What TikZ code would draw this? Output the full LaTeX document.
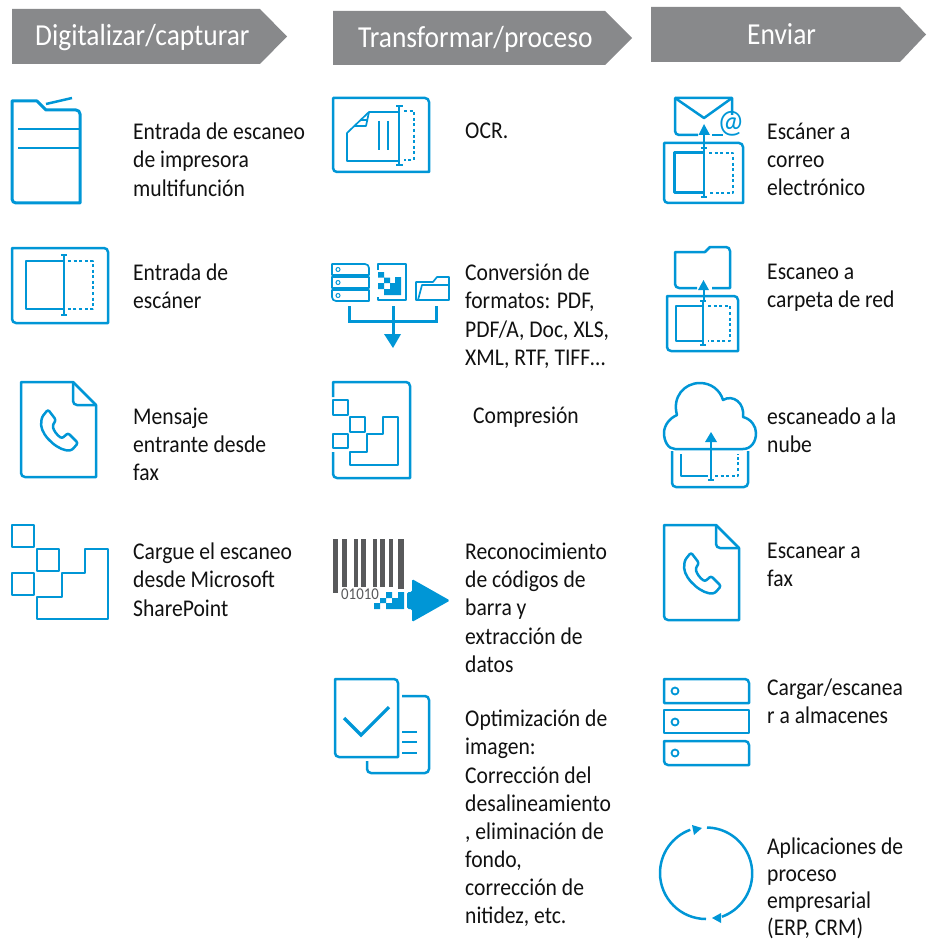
\documentclass[tikz,border=0pt]{standalone}
\usepackage{fontspec}
\setmainfont[FakeStretch=0.9]{Carlito}
\definecolor{hpblue}{HTML}{0096D6}
\definecolor{hdr}{HTML}{88898B}
\definecolor{barc}{HTML}{58595B}
\definecolor{txt}{HTML}{111111}
\tikzset{
  icon/.style={draw=hpblue,line width=2.5pt,line join=round,fill=none},
  thin icon/.style={icon,line width=1.7pt},
  dash icon/.style={icon,dash pattern=on 3pt off 2.6pt},
  banner/.style={fill=hdr,draw=none},
  htext/.style={text=white,font=\fontsize{30.5}{30}\selectfont,inner sep=0pt,anchor=base west},
  ltext/.style={text=txt,font=\fontsize{24}{28.1}\selectfont,inner sep=0pt,anchor=north west,align=left},
  barbar/.style={fill=barc,draw=none},
  rc/.style={rounded corners=4pt},
}
\newcommand{\phonepath}[1]{%
  \draw[icon,rounded corners=2.2pt,shift={#1}]
    (42,417) -- (48,409.5) -- (56,420) -- (52.5,425.5)
    .. controls (54,431) and (57,435) .. (62,438.5)
    -- (68,433) -- (78,443) -- (72,450)
    .. controls (60,452) and (42,437) .. (41,423) -- cycle;}
\begin{document}
\begin{tikzpicture}[x=1pt,y=-1pt]
\useasboundingbox (0,0) rectangle (932,941);
% banners
\fill[banner] (12,9) -- (260,9) -- (287,36.5) -- (260,64) -- (12,64) -- cycle;
\fill[banner] (333,11) -- (605,11) -- (632,38) -- (605,65) -- (333,65) -- cycle;
\fill[banner] (651,7) -- (900,7) -- (926,34.5) -- (900,62) -- (651,62) -- cycle;
\node[htext] (h1) at (35,46) {Digitalizar/capturar};
\node[htext] (h2) at (358,48) {Transformar/proceso};
\node[htext] (h3) at (747,45) {Enviar};

% printer
\draw[icon,line width=3pt] (12,101) -- (37,101) -- (46,110) [rc] -- (80,110) [sharp corners] -- (80,203) [rc] -- (12,203) [sharp corners] -- cycle;
\draw[icon] (18,129) -- (80,129) (18,148) -- (80,148);
\draw[icon] (46,104) -- (72,98);
% scanner
\draw[icon] (12,248) [rc] -- (108,248) [sharp corners] -- (108,323) [rc] -- (12,323) [sharp corners] -- cycle;
\draw[icon] (64,261) -- (26,261) -- (26,309) -- (64,309);
\draw[icon] (64,255) -- (64,315) (61,255) -- (67,255) (61,315) -- (67,315);
\draw[dash icon] (68,261) -- (93,261) -- (93,309) -- (68,309);
% fax
\draw[icon] (21,382) -- (73,382) -- (96,405) -- (96,477) [rc] -- (21,477) [sharp corners] -- cycle;
\draw[icon] (73,382) [rc] -- (73,405) -- (96,405);
\phonepath{(0,0)}
% sharepoint
\draw[icon] (12,525) rectangle (34,547) (37,549) rectangle (59,571) (12,573) rectangle (34,595);
\draw[icon] (37,597) -- (62,597) -- (62,573) -- (85,573) -- (85,549) -- (108,549) -- (108,619) -- (37,619) -- cycle;

% OCR
\draw[icon] (333,98) [rc] -- (429,98) [sharp corners] -- (429,172) [rc] -- (333,172) [sharp corners] -- cycle;
\draw[thin icon] (398,112) -- (369,112) -- (347,133) -- (347,161) -- (398,161);
\draw[thin icon] (369,112) -- (366,126) -- (355,126) (360,120) -- (367,120);
\draw[thin icon] (379,121) -- (379,150) (388,121) -- (388,150);
\draw[icon] (399,106) -- (399,165) (396,106) -- (403,106) (396,165) -- (403,165);
\draw[dash icon] (404,111) -- (414,111) -- (414,160) -- (404,160);
% formats
\draw[thin icon] (332,264) [rc] -- (369,264) [sharp corners] -- (369,275) -- (332,275) -- cycle;
\draw[thin icon] (332,277) rectangle (369,288);
\draw[thin icon] (332,290) -- (369,290) -- (369,301) [rc] -- (332,301) [sharp corners] -- cycle;
\foreach \yy in {269.5,282.5,295.5} \draw[hpblue,line width=1pt] (338,\yy) circle[radius=2pt];
\draw[thin icon] (378,270) -- (378,264) -- (406,264) -- (406,300) -- (378,300) -- (378,297);
\fill[hpblue] (378,272) rectangle (384,277.5) (384,277.5) rectangle (390,283) (378,283) rectangle (384,289);
\fill[hpblue] (384,295) -- (401,295) -- (401,277) -- (395,277) -- (395,283) -- (390,283) -- (390,289) -- (384,289) -- cycle;
\draw[thin icon] (416,300) -- (416,282) -- (433,282) -- (437,277) -- (449,277) -- (449,300) -- cycle;
\draw[thin icon] (418,300) -- (422,285) -- (449,285);
\draw[hpblue,line width=3pt] (349,306) -- (349,321) -- (436,321) -- (436,306) (393,306) -- (393,336);
\fill[hpblue] (384,334) -- (401,334) -- (393,348) -- cycle;
% compression
\draw[icon] (333,397) -- (333,382) [rc] -- (410,382) [sharp corners] -- (410,478) [rc] -- (333,478) [sharp corners] -- (333,452);
\draw[icon] (333,400) rectangle (348,415) (350,417) rectangle (365,432) (333,434) rectangle (348,448);
\draw[icon] (350,452) -- (367,452) -- (367,434) -- (383,434) -- (383,417) -- (398,417) -- (398,465) -- (350,465) -- cycle;
% barcode
\fill[barbar] (333,539) rectangle (338,593);
\fill[barbar] (342,539) rectangle (347,587);
\fill[barbar] (354,539) rectangle (357.5,587);
\fill[barbar] (361,539) rectangle (366,587);
\fill[barbar] (373,539) rectangle (376.5,587);
\fill[barbar] (380,539) rectangle (385,587);
\fill[barbar] (389,539) rectangle (393,587);
\fill[barbar] (398,539) rectangle (404,589);
\node[text=barc,font=\fontsize{16.5}{15}\selectfont,inner sep=0pt,anchor=base west] (bc) at (341,599) {01010};
\fill[hpblue] (374,603) rectangle (380,609) (380,598) rectangle (386,603) (386,592) rectangle (392,598);
\fill[hpblue] (386,603) -- (392,603) -- (392,598) -- (398,598) -- (398,592) -- (404,592) -- (404,609) -- (386,609) -- cycle;
\fill[hpblue,rounded corners=1.5pt] (407,592) -- (412,592) -- (412,579) -- (450,600.5) -- (412,622) -- (412,609) -- (407,609) -- cycle;
% optimise
\draw[icon] (335,679) [rc] -- (398,679) [sharp corners] -- (398,757) [rc] -- (335,757) [sharp corners] -- cycle;
\draw[icon] (402,696) [rc] -- (429,696) -- (429,773) -- (367,773) [sharp corners] -- (367,761);
\draw[icon] (402,732) -- (417,732) (402,742) -- (417,742) (402,753) -- (417,753);
\draw[hpblue,line width=3.2pt] (344,718) -- (361,735) -- (389,707);

% email
\draw[icon] (732,115) -- (732,98) -- (675,98) [rc] -- (675,135) [sharp corners] -- (698,135);
\draw[icon] (712,135) -- (723,135);
\draw[icon] (675,98) -- (704,118) -- (732,98);
\node[text=hpblue,font=\fontsize{33}{33}\selectfont,inner sep=0pt] (at) at (731,124) {@};
\draw[hpblue,line width=2.5pt] (704,150) -- (704,133);
\fill[hpblue] (698.5,135) -- (710,135) -- (704,124) -- cycle;
\draw[icon] (664,143) [rc] -- (743,143) [sharp corners] -- (743,203) [rc] -- (664,203) [sharp corners] -- cycle;
\draw[icon,line width=3pt] (704,153) -- (674,153) -- (674,193) -- (704,193);
\draw[icon] (704,148) -- (704,197) (701,148) -- (707,148) (701,197) -- (707,197);
\draw[dash icon] (709,153) -- (733,153) -- (733,193) -- (709,193);
% folder
\draw[icon] (712,288) -- (730,288) -- (730,251) [rc] -- (730,247) [sharp corners] -- (710,247) -- (705,252) -- (675,252) [rc] -- (675,288) -- (697,288);
\draw[hpblue,line width=2.2pt] (704,301) -- (704,289);
\fill[hpblue] (698,290) -- (709,290) -- (703.5,280) -- cycle;
\draw[icon] (667,296) [rc] -- (738,296) [sharp corners] -- (738,351) [rc] -- (667,351) [sharp corners] -- cycle;
\draw[icon] (703,306) -- (676,306) -- (676,341) -- (703,341);
\draw[icon] (703,301) -- (703,345) (700,301) -- (706,301) (700,345) -- (706,345);
\draw[dash icon] (708,306) -- (730,306) -- (730,341) -- (708,341);
% cloud
\draw[icon] (675,449) .. controls (668,449) and (664,441) .. (664,433)
  .. controls (664,425) and (670,418) .. (677,415)
  .. controls (672,397) and (684,383) .. (700,383)
  .. controls (711,383) and (720,390) .. (723,400)
  .. controls (733,394) and (745,403) .. (743,417)
  .. controls (751,419) and (756,426) .. (756,433)
  .. controls (756,442) and (751,449) .. (743,449) -- cycle;
\draw[icon] (672,451) [rc] -- (672,487) -- (748,487) [sharp corners] -- (748,451);
\draw[icon] (681,454) -- (681,476) -- (708,476);
\draw[icon] (708,480) -- (714,480) (711,480) -- (711,441);
\fill[hpblue] (705,442) -- (717,442) -- (711,432) -- cycle;
\draw[dash icon] (715,476) -- (738,476) -- (738,454);
% fax 2
\draw[icon] (664,525) -- (716,525) -- (739,548) -- (739,620) [rc] -- (664,620) [sharp corners] -- cycle;
\draw[icon] (716,525) [rc] -- (716,548) -- (739,548);
\phonepath{(643,143)}
% storage
\draw[icon] (664,679) [rc] -- (749,679) [sharp corners] -- (749,703) -- (664,703) -- cycle;
\draw[icon] (664,710) rectangle (749,733);
\draw[icon] (664,741) [rc] -- (749,741) [sharp corners] -- (749,765) [rc] -- (664,765) [sharp corners] -- cycle;
\draw[hpblue,line width=1.8pt] (675,691) circle[radius=3.5pt] (675,722) circle[radius=3.5pt] (675,753) circle[radius=3.5pt];
% cycle
\draw[icon] (707,827.5) arc[start angle=89,end angle=-70,radius=46pt];
\draw[icon] (706,919) arc[start angle=270,end angle=110,radius=46pt];
\fill[hpblue] (702,828) -- (692,825) -- (694,835) -- cycle;
\fill[hpblue] (712,918) -- (721,913) -- (721,923) -- cycle;

% labels
\node[ltext] (a1) at (133,123) {Entrada de escaneo\\de impresora\\multifunción};
\node[ltext] (a2) at (133,264) {Entrada de\\escáner};
\node[ltext] (a3) at (133,408) {Mensaje\\entrante desde\\fax};
\node[ltext] (a4) at (133,543) {Cargue el escaneo\\desde Microsoft\\SharePoint};
\node[ltext] (b1) at (465,123) {OCR.};
\node[ltext] (b2) at (465,264) {Conversión de\\formatos: PDF,\\PDF/A, Doc, XLS,\\XML, RTF, TIFF…};
\node[ltext] (b3) at (473,407) {Compresión};
\node[ltext] (b4) at (465,543) {Reconocimiento\\de códigos de\\barra y\\extracción de\\datos};
\node[ltext] (b5) at (465,710) {Optimización de\\imagen:\\Corrección del\\desalineamiento\\, eliminación de\\fondo,\\corrección de\\nitidez, etc.};
\node[ltext] (c1) at (767,123) {Escáner a\\correo\\electrónico};
\node[ltext] (c2) at (767,264) {Escaneo a\\carpeta de red};
\node[ltext] (c3) at (767,408) {escaneado a la\\nube};
\node[ltext] (c4) at (767,543) {Escanear a\\fax};
\node[ltext] (c5) at (767,679) {Cargar/escanea\\r a almacenes};
\node[ltext,font=\fontsize{24}{27}\selectfont] (c6) at (767,838) {Aplicaciones de\\proceso\\empresarial\\(ERP, CRM)};
\end{tikzpicture}
\end{document}
